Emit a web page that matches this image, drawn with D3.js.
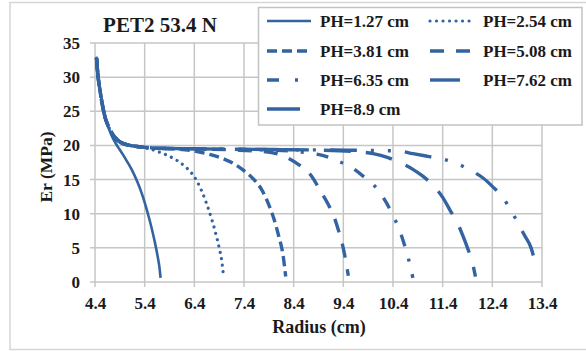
<!DOCTYPE html>
<html>
<head>
<meta charset="utf-8">
<script src="https://cdn.jsdelivr.net/npm/d3@7"></script>
<style>
  html, body { margin: 0; padding: 0; background: #fff; }
</style>
</head>
<body>
<svg id="chart" width="586" height="351"></svg>
<script>
// ---- data ----
const chartTitle = "PET2 53.4 N";
const xTicks = [4.4, 5.4, 6.4, 7.4, 8.4, 9.4, 10.4, 11.4, 12.4, 13.4];
const yTicks = [0, 5, 10, 15, 20, 25, 30, 35];
const seriesNames = ["PH=1.27 cm", "PH=2.54 cm", "PH=3.81 cm", "PH=5.08 cm", "PH=6.35 cm", "PH=7.62 cm", "PH=8.9 cm"];

const ph127 = [[4.43,32.8],[4.46,30.2],[4.5,28.1],[4.55,25.9],[4.6,24.2],[4.67,22.6],[4.75,21.2],[4.85,19.9],[4.95,18.8],[5.05,17.6],[5.15,16.3],[5.25,14.7],[5.35,12.8],[5.45,10.4],[5.53,8.2],[5.6,6.0],[5.66,3.8],[5.7,2.0],[5.72,0.6]];
const ph254 = [[4.43,32.8],[4.46,30.2],[4.5,28.1],[4.55,25.9],[4.6,24.2],[4.67,22.8],[4.75,21.7],[4.85,20.8],[4.96,20.3],[5.1,20.0],[5.3,19.8],[5.5,19.5],[5.7,19.0],[5.9,18.4],[6.05,17.8],[6.2,17.0],[6.35,15.9],[6.45,14.8],[6.55,13.3],[6.65,11.4],[6.75,9.2],[6.82,7.4],[6.9,5.0],[6.95,3.2],[6.98,1.4]];
const ph381 = [[4.43,32.8],[4.46,30.2],[4.5,28.1],[4.55,25.9],[4.6,24.2],[4.67,22.8],[4.75,21.7],[4.85,20.8],[4.96,20.3],[5.1,20.0],[5.3,19.8],[5.6,19.6],[6.0,19.5],[6.4,19.2],[6.7,18.7],[7.0,18.0],[7.2,17.3],[7.4,16.3],[7.6,15.0],[7.75,13.6],[7.9,11.3],[8.0,9.3],[8.1,6.7],[8.18,4.2],[8.24,0.8]];
const ph508 = [[4.43,32.8],[4.46,30.2],[4.5,28.1],[4.55,25.9],[4.6,24.2],[4.67,22.8],[4.75,21.7],[4.85,20.8],[4.96,20.3],[5.1,20.0],[5.3,19.8],[5.6,19.6],[6.5,19.5],[7.3,19.3],[7.8,19.1],[8.1,18.7],[8.3,18.1],[8.5,17.2],[8.75,15.6],[8.95,13.2],[9.1,11.3],[9.2,9.8],[9.3,7.6],[9.4,4.9],[9.46,2.7],[9.5,0.9]];
const ph635 = [[4.43,32.8],[4.46,30.2],[4.5,28.1],[4.55,25.9],[4.6,24.2],[4.67,22.8],[4.75,21.7],[4.85,20.8],[4.96,20.3],[5.1,20.0],[5.3,19.8],[5.6,19.6],[6.5,19.5],[7.5,19.4],[8.3,19.2],[8.7,18.9],[9.0,18.5],[9.2,18.0],[9.45,17.2],[9.6,16.6],[9.8,15.5],[10.0,14.3],[10.2,12.4],[10.35,10.5],[10.45,9.0],[10.58,6.6],[10.68,4.2],[10.74,2.6],[10.8,0.6]];
const ph762 = [[4.43,32.8],[4.46,30.2],[4.5,28.1],[4.55,25.9],[4.6,24.2],[4.67,22.8],[4.75,21.7],[4.85,20.8],[4.96,20.3],[5.1,20.0],[5.3,19.8],[5.6,19.6],[6.5,19.5],[8.0,19.4],[9.0,19.3],[9.6,19.1],[10.0,18.8],[10.3,18.2],[10.5,17.6],[10.8,16.5],[11.0,15.5],[11.2,14.2],[11.4,12.4],[11.55,10.5],[11.7,8.6],[11.8,6.9],[11.9,5.0],[12.0,2.8],[12.06,0.8]];
const ph89 = [[4.43,32.8],[4.46,30.2],[4.5,28.1],[4.55,25.9],[4.6,24.2],[4.67,22.8],[4.75,21.7],[4.85,20.8],[4.96,20.3],[5.1,20.0],[5.3,19.8],[5.6,19.6],[6.5,19.5],[8.0,19.4],[9.5,19.3],[10.5,19.2],[10.8,18.8],[11.1,18.4],[11.4,18.0],[11.7,17.3],[11.95,16.4],[12.2,15.3],[12.4,14.0],[12.62,12.3],[12.78,10.4],[12.92,8.6],[13.05,6.8],[13.18,5.0],[13.27,2.6]];

const seriesData = [ph127, ph254, ph381, ph508, ph635, ph762, ph89];

// ---- styles ----
const FONT = "'Liberation Serif', 'Times New Roman', Times, serif";
const textColor = "#1a1a1a";
const lineColor = "#3363a0";
const styles = [
  { w: 2.6, dash: null, cap: "butt" },
  { w: 3.2, dash: "0.01 6.5", cap: "round" },
  { w: 3.4, dash: "10 5", cap: "butt" },
  { w: 3.4, dash: "14 12", cap: "butt" },
  { w: 3.4, dash: "12 13 3 13", cap: "butt" },
  { w: 3.4, dash: "27 15", cap: "butt" },
  { w: 3.4, dash: "27 14 3 14 3 14", cap: "butt" }
];

const svg = d3.select("#chart");
const gridColor = "#c6c6c6";

function txt(sel, size) {
  return sel.style("font-family", FONT).style("font-weight", "bold")
    .style("font-size", size + "px").style("fill", textColor);
}

// outer frame
svg.append("rect").attr("x", 10).attr("y", 2.5).attr("width", 600).attr("height", 347)
  .attr("fill", "none").attr("stroke", "#d6d6d6").attr("stroke-width", 1.5);

const x = d3.scaleLinear().domain([4.4, 13.4]).range([95, 542]);
const y = d3.scaleLinear().domain([0, 35]).range([282, 43]);

// grid
svg.append("g").selectAll("line").data(xTicks).join("line")
  .attr("x1", d => x(d)).attr("x2", d => x(d))
  .attr("y1", y(35)).attr("y2", y(0) + 5)
  .attr("stroke", gridColor).attr("stroke-width", 1.5);
svg.append("g").selectAll("line").data(yTicks).join("line")
  .attr("x1", x(4.4) - 5).attr("x2", x(13.4))
  .attr("y1", d => y(d)).attr("y2", d => y(d))
  .attr("stroke", gridColor).attr("stroke-width", 1.5);

// axes labels via d3 axes
const xAxis = svg.append("g").attr("transform", `translate(0,${y(0)})`)
  .call(d3.axisBottom(x).tickValues(xTicks).tickFormat(d3.format(".1f")).tickSize(0).tickPadding(20));
xAxis.select(".domain").remove();
txt(xAxis.selectAll("text"), 17).attr("dy", null).attr("y", 27);

const yAxis = svg.append("g").attr("transform", `translate(${x(4.4)},0)`)
  .call(d3.axisLeft(y).tickValues(yTicks).tickFormat(d3.format("d")).tickSize(0).tickPadding(15));
yAxis.select(".domain").remove();
txt(yAxis.selectAll("text"), 17);

// lines
const line = d3.line().x(d => x(d[0])).y(d => y(d[1])).curve(d3.curveMonotoneX);
seriesData.forEach((s, i) => {
  const st = styles[i];
  const p = svg.append("path").datum(s).attr("d", line)
    .attr("fill", "none").attr("stroke", lineColor)
    .attr("stroke-width", st.w).attr("stroke-linecap", st.cap).attr("stroke-linejoin", "round");
  if (st.dash) p.attr("stroke-dasharray", st.dash);
});

// title
txt(svg.append("text").attr("x", 160).attr("y", 32).attr("text-anchor", "middle"), 21).text(chartTitle);

// axis titles
txt(svg.append("text").attr("x", 319).attr("y", 333).attr("text-anchor", "middle"), 18).text("Radius (cm)");
txt(svg.append("text").attr("transform", "translate(52,167) rotate(-90)").attr("text-anchor", "middle"), 17.5).text("Er (MPa)");

// legend
const lg = svg.append("g");
lg.append("rect").attr("x", 258.5).attr("y", 7.5).attr("width", 323.5).attr("height", 117.5)
  .attr("fill", "#fff").attr("stroke", "#c2c2c2").attr("stroke-width", 1.5);
const legendPos = [
  [267, 311, 320, 21], [430, 472, 483, 21],
  [267, 311, 320, 51], [430, 472, 483, 51],
  [267, 302, 320, 80], [430, 460, 483, 80],
  [267, 300, 320, 109]
];
seriesNames.forEach((name, i) => {
  const [x1, x2, tx, cy] = legendPos[i];
  const st = styles[i];
  const l = lg.append("line").attr("x1", x1).attr("x2", x2).attr("y1", cy).attr("y2", cy)
    .attr("stroke", lineColor).attr("stroke-width", st.w).attr("stroke-linecap", st.cap);
  if (i === 4) l.attr("stroke-dasharray", "12 16 3 20");
  else if (i < 4 && st.dash) l.attr("stroke-dasharray", st.dash);
  txt(lg.append("text").attr("x", tx).attr("y", cy + 6), 17).text(name);
});
</script>
</body>
</html>
